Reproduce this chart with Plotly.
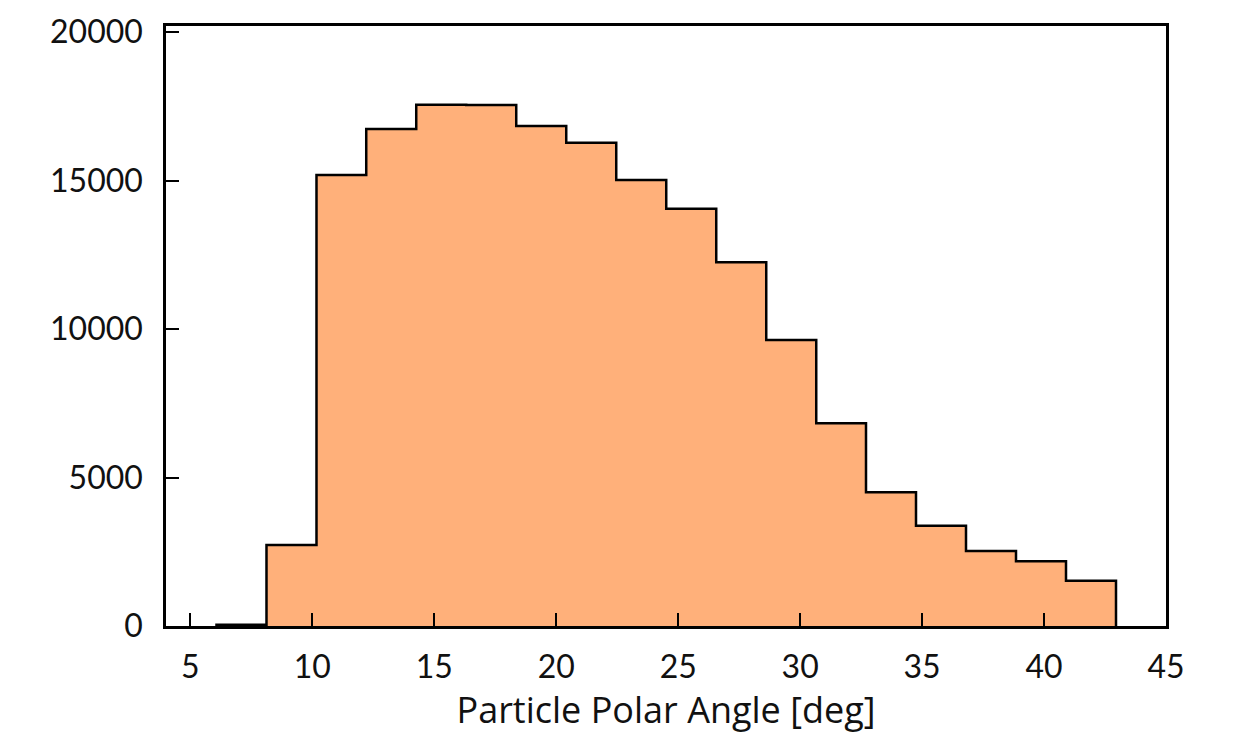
import plotly.graph_objects as go

# Bin edges (deg) and counts
bin_edges = [6.07, 8.12, 10.17, 12.21, 14.26, 16.31, 18.36, 20.41, 22.46, 24.51,
             26.56, 28.61, 30.66, 32.70, 34.75, 36.80, 38.85, 40.90, 42.95]
counts = [40, 2727, 15185, 16734, 17552, 17545, 16835, 16273, 15017, 14051,
          12246, 9630, 6825, 4502, 3378, 2525, 2177, 1526]
x_ticks = [5, 10, 15, 20, 25, 30, 35, 40, 45]
y_ticks = [0, 5000, 10000, 15000, 20000]

# Step outline: start at baseline, follow each bin top, drop back to baseline
xs = [bin_edges[0]] + bin_edges[:-1] + [bin_edges[-1], bin_edges[-1]]
ys = [0] + counts + [counts[-1], 0]

fig = go.Figure()
fig.add_trace(go.Scatter(
    x=xs, y=ys, mode="lines", line_shape="hv",
    line=dict(color="black", width=2.5),
    fill="tozeroy", fillcolor="#FFB07A",
    hoverinfo="skip", showlegend=False,
))

font_family = "Lato, 'Open Sans', sans-serif"
axis_common = dict(
    showline=True, linecolor="black", linewidth=2.5, mirror=True,
    ticks="inside", ticklen=13, tickwidth=2, tickcolor="black",
    showgrid=False, zeroline=False,
    tickfont=dict(family=font_family, size=32, color="#111111"),
)

fig.update_layout(
    width=1239, height=735,
    margin=dict(l=166, r=73, t=26, b=109),
    paper_bgcolor="white", plot_bgcolor="white",
    xaxis=dict(
        range=[4, 45], tickvals=x_ticks, ticktext=[str(v) for v in x_ticks],
        title=dict(text="Particle Polar Angle [deg]",
                   font=dict(family="'Open Sans', Lato, sans-serif", size=36, color="#111111"),
                   standoff=13),
        ticklabelstandoff=11,
        **axis_common,
    ),
    yaxis=dict(
        range=[0, 20202], tickvals=y_ticks, ticktext=[str(v) for v in y_ticks],
        ticklabelstandoff=14,
        **axis_common,
    ),
)

fig.write_html("out.html")
